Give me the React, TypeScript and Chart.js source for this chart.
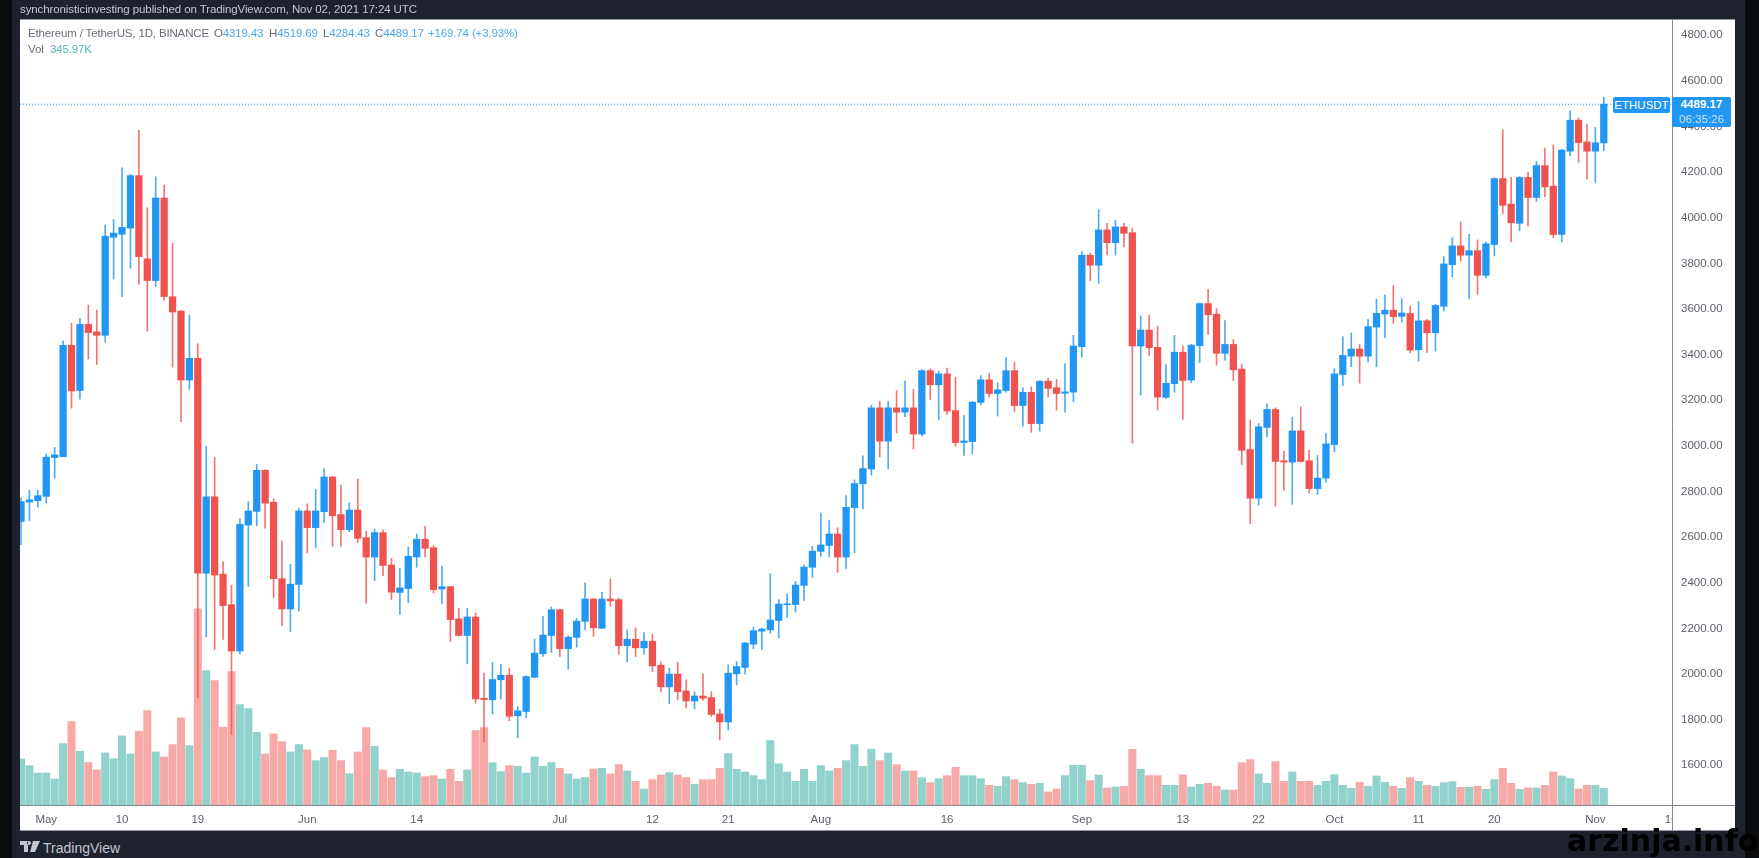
import React, { useEffect, useRef } from "react";
import { Chart, registerables } from "chart.js";

Chart.register(...registerables);

const opens = [
  2660,2745,2751,2770,2940,2944,3432,3234,3524,3491,
  3476,3906,3919,3946,4176,3811,3716,4078,3645,3582,
  3280,3375,2433,2768,2429,2295,2092,2644,2704,2884,
  2744,2409,2276,2384,2706,2633,2703,2855,2690,2624,
  2710,2589,2504,2611,2469,2349,2366,2504,2582,2545,
  2364,2374,2233,2160,2241,1885,1878,1966,1986,1808,
  1827,1977,2080,2160,2273,2102,2152,2222,2320,2192,
  2320,2317,2115,2144,2106,2135,2030,1935,1991,1917,
  1873,1895,1888,1816,1781,1992,2020,2122,2179,2185,
  2226,2295,2296,2380,2459,2529,2555,2605,2504,2721,
  2825,2890,3158,3012,3158,3139,3158,3043,3321,3259,
  3307,3146,3006,3010,3182,3281,3221,3234,3321,3168,
  3226,3089,3275,3246,3222,3227,3426,3827,3783,3938,
  3882,3951,3926,3429,3499,3423,3204,3264,3402,3280,
  3430,3615,3569,3397,3436,3328,2975,2762,3072,3151,
  2926,2920,3057,2926,2804,2850,2997,3304,3385,3416,
  3385,3512,3569,3586,3559,3572,3413,3540,3487,3603,
  3786,3868,3827,3847,3739,3874,4163,4051,3967,4168,
  4080,4220,4130,3918,4283,4419,4324,4283,4319.43,
];
const closes = [
  2747,2755,2773,2942,2952,3432,3232,3524,3488,3476,
  3910,3924,3949,4176,3821,3716,4078,3646,3578,3280,
  3375,2433,2768,2425,2291,2092,2647,2706,2884,2740,
  2409,2276,2385,2706,2633,2706,2855,2685,2624,2710,
  2586,2504,2611,2467,2350,2369,2507,2582,2542,2361,
  2374,2230,2160,2241,1882,1879,1967,1986,1806,1830,
  1980,2083,2162,2273,2102,2153,2223,2320,2194,2320,
  2312,2115,2144,2106,2135,2027,1935,1991,1914,1873,
  1895,1885,1814,1781,1995,2024,2127,2181,2188,2228,
  2298,2299,2381,2460,2530,2557,2605,2504,2722,2826,
  2892,3158,3012,3158,3139,3158,3043,3321,3259,3307,
  3144,3006,3013,3183,3281,3221,3237,3321,3168,3226,
  3089,3275,3243,3221,3228,3429,3827,3783,3938,3882,
  3951,3923,3429,3499,3422,3205,3266,3402,3278,3433,
  3615,3566,3397,3436,3325,2972,2762,3075,3151,2923,
  2920,3057,2923,2804,2850,3000,3307,3388,3416,3384,
  3514,3572,3586,3558,3574,3411,3539,3487,3607,3789,
  3868,3827,3847,3739,3877,4163,4046,3969,4168,4080,
  4220,4127,3918,4288,4419,4321,4283,4320,4489.17,
];
const highs = [
  2762,2796,2796,2955,2985,3452,3529,3550,3609,3587,
  3960,3984,4210,4181,4374,4035,4171,4134,3880,3586,
  3565,3439,2989,2940,2484,2381,2671,2747,2910,2887,
  2759,2574,2472,2718,2737,2800,2892,2858,2819,2741,
  2846,2617,2627,2623,2498,2453,2548,2605,2639,2554,
  2463,2376,2279,2279,2258,1995,2042,2034,2017,1849,
  1983,2144,2244,2285,2275,2159,2235,2390,2322,2349,
  2408,2324,2185,2193,2173,2166,2046,2017,2043,1966,
  1914,1992,1914,1837,2031,2046,2130,2197,2193,2431,
  2317,2343,2397,2470,2551,2697,2665,2632,2773,2842,
  2948,3170,3187,3187,3233,3275,3239,3326,3329,3319,
  3332,3291,3125,3186,3299,3309,3269,3378,3359,3246,
  3250,3277,3287,3283,3351,3476,3843,3836,4027,3967,
  3980,3967,3945,3561,3565,3517,3348,3476,3429,3436,
  3617,3678,3593,3540,3457,3348,3105,3089,3176,3158,
  2968,3117,3163,2972,2949,3046,3329,3470,3486,3436,
  3546,3634,3653,3694,3637,3604,3624,3546,3612,3821,
  3904,3973,3919,3894,3885,4166,4377,4168,4171,4190,
  4238,4297,4310,4292,4460,4428,4402,4387,4519.69,
];
const lows = [
  2558,2663,2723,2740,2850,2944,3157,3196,3372,3348,
  3446,3723,3645,3770,3700,3494,3689,3629,3337,3097,
  3239,1887,2154,2098,2143,1725,2078,2375,2641,2629,
  2326,2203,2176,2267,2522,2546,2656,2551,2551,2615,
  2567,2302,2400,2422,2318,2252,2304,2459,2504,2346,
  2301,2134,2158,2037,1863,1695,1816,1881,1786,1712,
  1800,1975,2068,2086,2068,2013,2109,2185,2156,2190,
  2288,2078,2045,2068,2078,2002,1914,1862,1878,1843,
  1838,1875,1805,1702,1746,1944,1991,2102,2099,2170,
  2149,2239,2263,2314,2415,2507,2504,2437,2453,2523,
  2715,2863,2943,2890,3048,3119,2977,3034,3195,3107,
  3129,2990,2949,2955,3171,3205,3122,3227,3142,3078,
  3051,3056,3206,3148,3139,3186,3381,3716,3704,3828,
  3828,3863,3003,3214,3388,3148,3198,3227,3107,3268,
  3356,3480,3345,3367,3277,2910,2651,2732,3031,2727,
  2797,2735,2921,2785,2778,2832,2965,3256,3338,3266,
  3359,3338,3466,3528,3534,3400,3363,3400,3407,3583,
  3732,3801,3637,3655,3727,3824,4010,3885,3934,3956,
  4064,4084,3904,3885,4263,4234,4160,4144,4284.43,
];
const volumesK = [
  955,817,664,664,540,1273,1730,1114,879,727,
  1080,962,1432,1059,1529,1958,1100,996,1253,1806,
  1232,4069,2789,2581,1612,2768,2083,2000,1509,1059,
  1474,1315,1100,1253,1142,920,983,1135,920,650,
  1100,1605,1218,727,567,740,685,664,588,609,
  540,740,491,727,1543,1605,879,692,817,803,
  664,996,803,879,761,644,540,567,747,761,
  644,837,706,491,332,526,623,671,623,567,
  429,526,526,761,1066,740,685,609,526,1336,
  858,685,491,740,491,817,706,761,920,1253,
  803,1156,920,1080,837,706,706,567,464,547,
  609,782,609,609,547,408,388,588,526,464,
  429,450,270,332,609,823,823,505,623,353,
  374,388,1156,740,609,609,408,408,623,374,
  429,450,388,311,311,879,941,644,450,900,
  491,685,491,491,408,491,630,408,346,471,
  388,602,471,388,346,567,491,408,388,464,
  484,367,367,388,325,526,761,450,325,353,
  353,408,685,602,547,332,408,408,346,
];
const priceTicks = [1600,1800,2000,2200,2400,2600,2800,3000,3200,3400,3600,3800,4000,4200,4400,4600,4800];
const dateTickDays = [3,12,21,34,47,64,75,84,95,110,126,138,147,156,166,175,187,196];
const dateTickLabels = ["May","10","19","Jun","14","Jul","12","21","Aug","16","Sep","13","22","Oct","11","20","Nov","10"];
const lastPrice = 4489.17;

const PRICE_MIN = 1417;
const PRICE_MAX = 4863;
const VOLUME_MAX = 16297;
const DAY_MIN = -0.119;
const DAY_MAX = 196.1;

const UP = "#2196f3";
const DOWN = "#ef5350";
const UP_WICK = "rgba(33,150,243,0.8)";
const DOWN_WICK = "rgba(239,83,80,0.8)";
const UP_VOL = "#92d2cc";
const DOWN_VOL = "#f7a9a7";
const AXIS = "#83868f";
const FONT = '"Liberation Sans", Arial, sans-serif';

const frame = {
  id: "frame",
  afterDraw(chart: any) {
    const { ctx, chartArea, width, height } = chart;
    ctx.save();
    ctx.fillStyle = "#ffffff";
    ctx.fillRect(chartArea.right, chartArea.bottom, width - chartArea.right, height - chartArea.bottom);
    ctx.strokeStyle = AXIS;
    ctx.lineWidth = 1;
    ctx.beginPath();
    ctx.moveTo(0, Math.round(chartArea.bottom) + 0.5);
    ctx.lineTo(width, Math.round(chartArea.bottom) + 0.5);
    ctx.moveTo(Math.round(chartArea.right) + 0.5, chartArea.top);
    ctx.lineTo(Math.round(chartArea.right) + 0.5, height);
    ctx.stroke();
    ctx.restore();
  },
};

export default function App() {
  const ref = useRef<HTMLCanvasElement>(null);

  useEffect(() => {
    const colors = closes.map((c, i) => (c >= opens[i] ? UP : DOWN));
    const wickColors = closes.map((c, i) => (c >= opens[i] ? UP_WICK : DOWN_WICK));
    const volColors = closes.map((c, i) => (c >= opens[i] ? UP_VOL : DOWN_VOL));
    const chart = new Chart(ref.current!, {
      type: "bar",
      data: {
        datasets: [
          {
            type: "line",
            data: [{ x: DAY_MIN, y: lastPrice }, { x: DAY_MAX, y: lastPrice }],
            borderColor: UP,
            borderWidth: 1,
            borderDash: [1, 2],
            pointRadius: 0,
            xAxisID: "x",
            yAxisID: "y",
            order: 4,
          },
          {
            label: "Vol",
            data: volumesK.map((v, i) => ({ x: i, y: v })),
            backgroundColor: volColors,
            barThickness: 7.4,
            grouped: false,
            xAxisID: "x",
            yAxisID: "y2",
            order: 3,
          },
          {
            label: "Wick",
            data: highs.map((h, i) => ({ x: i, y: [lows[i], h] })),
            backgroundColor: wickColors,
            barThickness: 1,
            grouped: false,
            xAxisID: "x",
            yAxisID: "y",
            order: 2,
          },
          {
            label: "ETHUSDT",
            data: opens.map((o, i) => ({ x: i, y: [o, closes[i]] })),
            backgroundColor: colors,
            barThickness: 6.6,
            grouped: false,
            xAxisID: "x",
            yAxisID: "y",
            order: 1,
          },
        ] as any,
      },
      options: {
        responsive: false,
        animation: false,
        devicePixelRatio: 1,
        layout: { padding: 0, autoPadding: false },
        plugins: { legend: { display: false }, tooltip: { enabled: false } },
        scales: {
          x: {
            type: "linear",
            min: DAY_MIN,
            max: DAY_MAX,
            offset: false,
            grid: { display: false, drawTicks: false },
            border: { display: false },
            afterBuildTicks: (axis: any) => {
              axis.ticks = dateTickDays.map((value) => ({ value }));
            },
            afterFit: (axis: any) => {
              axis.height = 25;
            },
            ticks: {
              autoSkip: false,
              maxRotation: 0,
              padding: 8,
              color: "#5d606b",
              font: { family: FONT, size: 11.5 },
              callback: (value: any) => dateTickLabels[dateTickDays.indexOf(value)] ?? "",
            },
          },
          y: {
            type: "linear",
            position: "right",
            min: PRICE_MIN,
            max: PRICE_MAX,
            grid: { display: false, drawTicks: false },
            border: { display: false },
            afterBuildTicks: (axis: any) => {
              axis.ticks = priceTicks.map((value) => ({ value }));
            },
            afterFit: (axis: any) => {
              axis.width = 63;
            },
            ticks: {
              padding: 9,
              labelOffset: 2,
              color: "#5d606b",
              font: { family: FONT, size: 11.5 },
              callback: (value: any) => Number(value).toFixed(2),
            },
          },
          y2: { type: "linear", display: false, min: 0, max: VOLUME_MAX },
        },
      } as any,
      plugins: [frame],
    });
    return () => chart.destroy();
  }, []);

  const abs = (style: React.CSSProperties): React.CSSProperties => ({
    position: "absolute",
    whiteSpace: "nowrap",
    fontFamily: FONT,
    ...style,
  });
  const legendText: React.CSSProperties = { top: 26, fontSize: 11.5, lineHeight: "15px", letterSpacing: "-0.15px" };
  const legendGray = "#6a6d78";
  const legendBlue = "#4aa8ec";

  return (
    <div style={{ position: "fixed", left: 0, top: 0, width: 1759, height: 858, background: "#0a0b0c", overflow: "hidden" }}>
      <div style={{ position: "absolute", left: 12, top: 0, width: 1733, height: 858, background: "#1e222d" }} />
      <div style={{ position: "absolute", left: 20, top: 19, width: 1715, height: 812, background: "#9598a1" }} />
      <div style={{ position: "absolute", left: 20, top: 20, width: 1715, height: 810, background: "#fff" }} />
      <canvas ref={ref} width={1715} height={827} style={{ position: "absolute", left: 20, top: 3, width: 1715, height: 827 }} />

      <div style={abs({ left: 20, top: 1, fontSize: 11.5, letterSpacing: "-0.1px", lineHeight: "16px", color: "#c3c6ce" })}>
        synchronisticinvesting published on TradingView.com, Nov 02, 2021 17:24 UTC
      </div>

      <div style={abs({ ...legendText, left: 28, color: legendGray })}>Ethereum / TetherUS, 1D, BINANCE</div>
      <div style={abs({ ...legendText, left: 214, color: legendGray })}>O<span style={{ color: legendBlue }}>4319.43</span></div>
      <div style={abs({ ...legendText, left: 269, color: legendGray })}>H<span style={{ color: legendBlue }}>4519.69</span></div>
      <div style={abs({ ...legendText, left: 323, color: legendGray })}>L<span style={{ color: legendBlue }}>4284.43</span></div>
      <div style={abs({ ...legendText, left: 375, color: legendGray })}>C<span style={{ color: legendBlue }}>4489.17</span></div>
      <div style={abs({ ...legendText, left: 428, color: legendBlue })}>+169.74 (+3.93%)</div>
      <div style={abs({ ...legendText, left: 28, top: 42, color: legendGray })}>Vol</div>
      <div style={abs({ ...legendText, left: 50, top: 42, color: "#4db6ac" })}>345.97K</div>

      <div style={abs({ left: 1613, top: 97, width: 57, height: 16, lineHeight: "16px", background: UP, color: "#fff", fontSize: 11.5, textAlign: "center", borderRadius: 2 })}>ETHUSDT</div>
      <div style={abs({ left: 1672, top: 97, width: 59, height: 30, background: UP, borderRadius: 2, textAlign: "center", fontSize: 11.5, lineHeight: "15px" })}>
        <div style={{ color: "#fff", fontWeight: 700 }}>4489.17</div>
        <div style={{ color: "#bfe0fa" }}>06:35:26</div>
      </div>

      <svg style={{ position: "absolute", left: 20, top: 841 }} width="20" height="11" viewBox="0 0 20 11">
        <path d="M0 0H8V11H4V4H0Z M13 0H20L15 11H10Z M9 0A2 2 0 1 0 9.01 0Z" fill="#c3c6ce" />
      </svg>
      <div style={abs({ left: 43, top: 840, fontSize: 14, lineHeight: "17px", color: "#c3c6ce" })}>TradingView</div>

      <div style={abs({ left: 1567, top: 825, fontSize: 30, lineHeight: "32px", fontWeight: 700, fontFamily: '"DejaVu Sans", sans-serif', color: "#000" })}>arzinja.info</div>
    </div>
  );
}
